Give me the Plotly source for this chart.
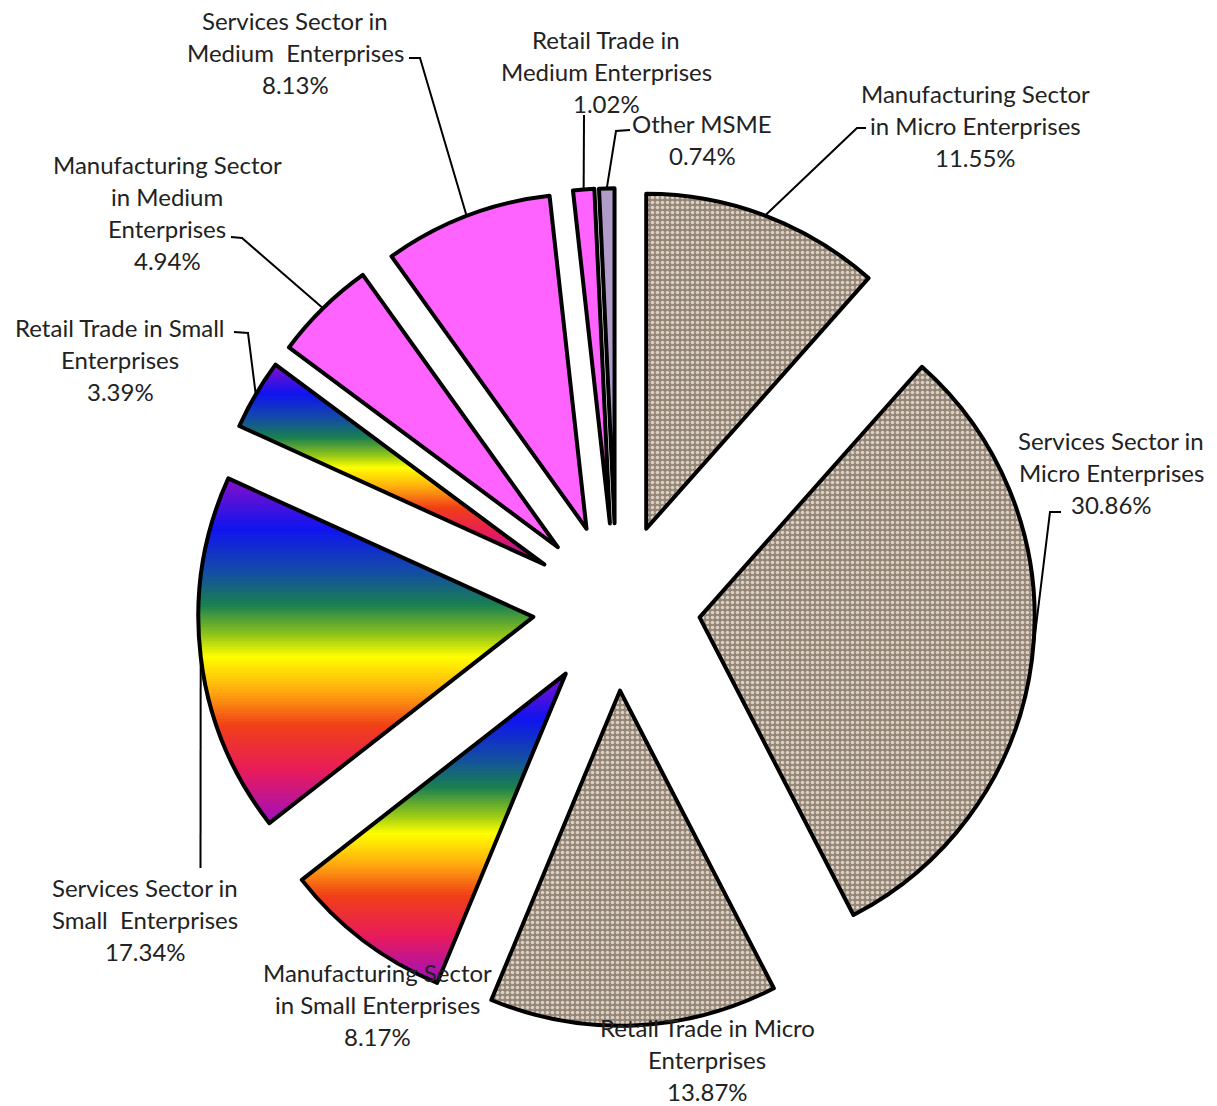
import math
import plotly.graph_objects as go

# ---------------- data ----------------
categories = [
    "Manufacturing Sector in Micro Enterprises",
    "Services Sector in Micro Enterprises",
    "Retail Trade in Micro Enterprises",
    "Manufacturing Sector in Small Enterprises",
    "Services Sector in Small Enterprises",
    "Retail Trade in Small Enterprises",
    "Manufacturing Sector in Medium Enterprises",
    "Services Sector in Medium Enterprises",
    "Retail Trade in Medium Enterprises",
    "Other MSME",
]
values = [11.55, 30.86, 13.87, 8.17, 17.34, 3.39, 4.94, 8.13, 1.02, 0.74]
label_lines = [
    ["Manufacturing Sector", "in Micro Enterprises"],
    ["Services Sector in", "Micro Enterprises"],
    ["Retail Trade in Micro", "Enterprises"],
    ["Manufacturing Sector", "in Small Enterprises"],
    ["Services Sector in", "Small\u00a0 Enterprises"],
    ["Retail Trade in Small", "Enterprises"],
    ["Manufacturing Sector", "in Medium", "Enterprises"],
    ["Services Sector in", "Medium\u00a0 Enterprises"],
    ["Retail Trade in", "Medium Enterprises"],
    ["Other MSME"],
]
fill_kind = ["granite", "granite", "granite", "rainbow", "rainbow", "rainbow",
             "pink", "pink", "pink", "lavender"]

# ---------------- layout / style ----------------
W, H = 1217, 1106
CX, CY = 616.5, 607.0       # pie centre (px)
R = 335.0                   # pie radius (px)
PULL = 0.25
OUTLINE = 4
FONT = dict(family="Lato, Carlito, Calibri, sans-serif", size=24, color="#222222")
LINE_GAP = 32

# label anchor: (centre x, first-line y) and leader elbows, per slice
label_pos = [(975, 93), (1111, 440), (707, 1027), (377, 972), (145, 887),
             (120, 327), (167, 164), (295, 20), (606, 39), (702, 123)]
leader_elbows = [
    [(857, 128), (866, 128)],
    [(1050, 512), (1061, 512)],
    None,
    None,
    [(200.5, 868)],
    [(248, 333), (234, 332)],
    [(242, 238), (231, 237)],
    [(420, 58), (409, 58)],
    [(584, 115)],
    [(616, 131), (630, 130)],
]

base_colors = {
    "granite": "#968676",
    "rainbow": "rgba(0,0,0,0)",
    "pink": "#ff63ff",
    "lavender": "#b09cc8",
}
rainbow_stops = [
    (0.00, (138, 16, 200)),
    (0.15, (16, 20, 240)),
    (0.28, (20, 80, 160)),
    (0.37, (26, 128, 80)),
    (0.46, (150, 200, 24)),
    (0.52, (255, 255, 0)),
    (0.62, (255, 170, 16)),
    (0.72, (240, 64, 24)),
    (0.85, (232, 28, 90)),
    (1.00, (160, 16, 192)),
]


def grad(t):
    t = max(0.0, min(1.0, t))
    for (t0, c0), (t1, c1) in zip(rainbow_stops[:-1], rainbow_stops[1:]):
        if t <= t1:
            f = (t - t0) / (t1 - t0) if t1 > t0 else 0
            c = [round(c0[k] + f * (c1[k] - c0[k])) for k in range(3)]
            return "rgb(%d,%d,%d)" % tuple(c)
    return "rgb(%d,%d,%d)" % rainbow_stops[-1][1]


def clip_y(poly, ylo, yhi):
    def clip(pts, keep, inter):
        out = []
        n = len(pts)
        for k in range(n):
            p, q = pts[k], pts[(k + 1) % n]
            pin, qin = keep(p), keep(q)
            if pin:
                out.append(p)
            if pin != qin:
                out.append(inter(p, q))
        return out

    def ix(p, q, yv):
        t = (yv - p[1]) / (q[1] - p[1])
        return (p[0] + t * (q[0] - p[0]), yv)

    pts = clip(poly, lambda p: p[1] >= ylo, lambda p, q: ix(p, q, ylo))
    if len(pts) < 3:
        return []
    pts = clip(pts, lambda p: p[1] <= yhi, lambda p, q: ix(p, q, yhi))
    return pts if len(pts) >= 3 else []


# ---------------- geometry derived from the data ----------------
total = sum(values)
geo = []
cum = 0.0
for v in values:
    a0 = 2 * math.pi * cum / total
    cum += v
    a1 = 2 * math.pi * cum / total
    mid = (a0 + a1) / 2
    pcx = CX + PULL * R * math.sin(mid)
    pcy = CY - PULL * R * math.cos(mid)
    geo.append((a0, a1, mid, pcx, pcy))

fig = go.Figure()

# gradient fills for the "rainbow" slices (drawn under the pie outline)
NB = 120
for i, kind in enumerate(fill_kind):
    if kind != "rainbow":
        continue
    a0, a1, mid, pcx, pcy = geo[i]
    n = 120
    poly = [(pcx, pcy)] + [
        (pcx + R * math.sin(a0 + (a1 - a0) * k / n),
         pcy - R * math.cos(a0 + (a1 - a0) * k / n)) for k in range(n + 1)]
    ys = [p[1] for p in poly]
    y0, y1 = min(ys), max(ys)
    hstep = (y1 - y0) / NB
    for b in range(NB):
        lo = y0 + b * hstep - 0.4
        hi = y0 + (b + 1) * hstep + 0.4
        part = clip_y(poly, lo, hi)
        if not part:
            continue
        col = grad((b + 0.5) / NB)
        fig.add_trace(go.Scatter(
            x=[p[0] for p in part] + [part[0][0]],
            y=[p[1] for p in part] + [part[0][1]],
            mode="lines", fill="toself", fillcolor=col,
            line=dict(color=col, width=1), hoverinfo="skip", showlegend=False))

# the pie itself
half = R * (1 + PULL)
fig.add_trace(go.Pie(
    labels=categories, values=values, sort=False, direction="clockwise",
    rotation=0, pull=[PULL] * len(values), textinfo="none", hoverinfo="skip",
    showlegend=False,
    domain=dict(x=[(CX - half) / W, (CX + half) / W],
                y=[(H - CY - half) / H, (H - CY + half) / H]),
    marker=dict(
        colors=[base_colors[k] for k in fill_kind],
        line=dict(color="black", width=OUTLINE),
        pattern=dict(
            shape=["." if k == "granite" else "" for k in fill_kind],
            fgcolor=["#dad1c6" if k == "granite" else "rgba(0,0,0,0)" for k in fill_kind],
            bgcolor=[base_colors[k] for k in fill_kind],
            size=5, solidity=0.4, fillmode="replace"),
    ),
))

# labels & leader lines
shapes = []
annotations = []
for i in range(len(values)):
    a0, a1, mid, pcx, pcy = geo[i]
    lines = label_lines[i] + ["%.2f%%" % values[i]]
    lx, ly = label_pos[i]
    for j, txt in enumerate(lines):
        annotations.append(dict(
            x=lx, y=ly + j * LINE_GAP, xref="x", yref="y", text=txt,
            showarrow=False, xanchor="center", yanchor="middle", font=FONT))
    if leader_elbows[i]:
        ax = pcx + R * math.sin(mid)
        ay = pcy - R * math.cos(mid)
        pts = [(ax, ay)] + leader_elbows[i]
        path = "M %.2f %.2f " % pts[0] + " ".join("L %.2f %.2f" % p for p in pts[1:])
        shapes.append(dict(type="path", xref="x", yref="y", path=path,
                           line=dict(color="black", width=2), layer="above"))

fig.update_layout(
    width=W, height=H, margin=dict(l=0, r=0, t=0, b=0),
    paper_bgcolor="white", plot_bgcolor="rgba(0,0,0,0)",
    xaxis=dict(range=[0, W], visible=False, fixedrange=True),
    yaxis=dict(range=[H, 0], visible=False, fixedrange=True),
    shapes=shapes, annotations=annotations, showlegend=False,
)

fig.write_html("out.html", config={"displayModeBar": False},
               post_script="document.body.style.margin='0';document.body.style.overflow='hidden';")
